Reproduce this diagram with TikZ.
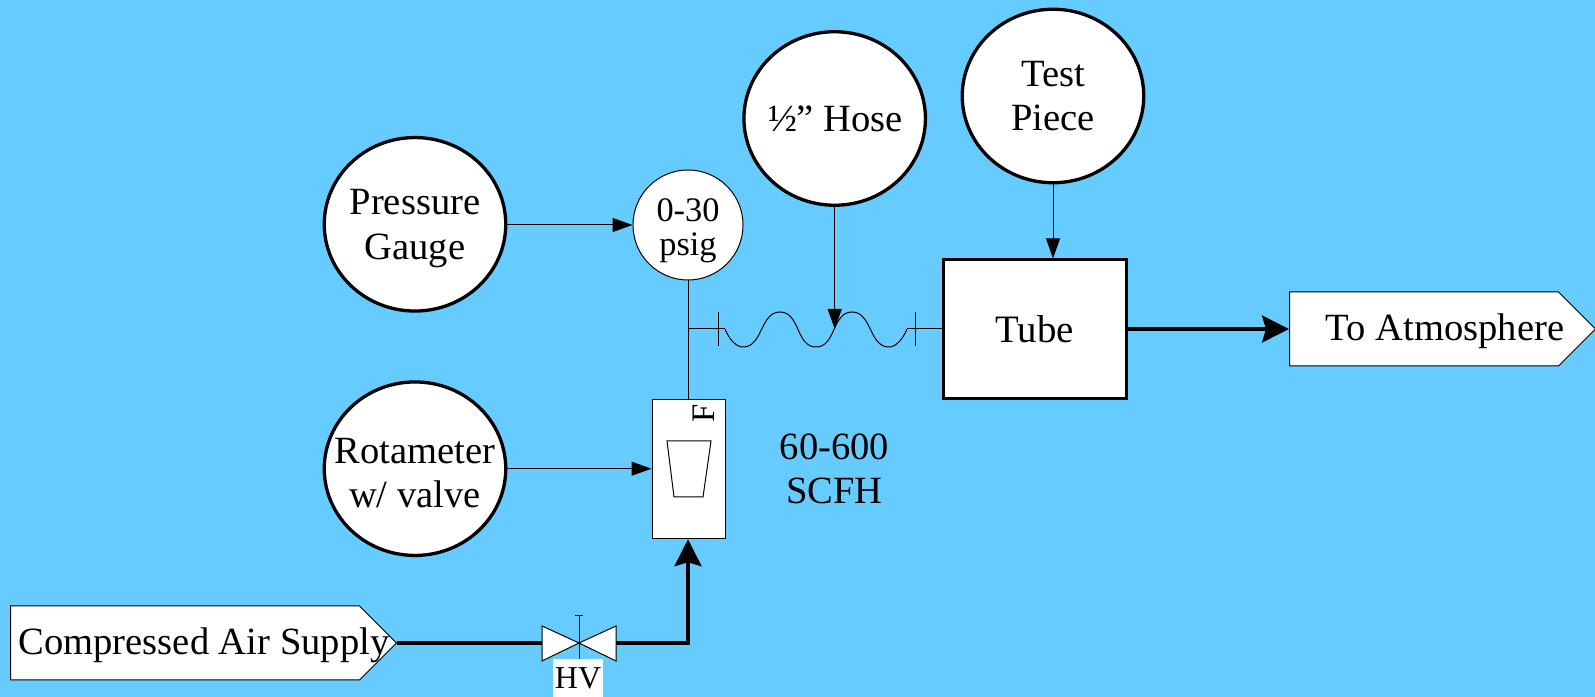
\documentclass[tikz,border=0pt]{standalone}
\usepackage{fontspec}
\setmainfont{Liberation Serif}
\usetikzlibrary{arrows.meta,shapes.symbols,shapes.geometric}
\definecolor{skyback}{HTML}{66CCFF}
\tikzset{
  bigcircle/.style={draw,fill=white,ellipse,line width=3.3bp,inner sep=0pt,minimum width=181.5bp,minimum height=173.5bp},
  smallcircle/.style={draw,fill=white,circle,line width=1bp,inner sep=0pt,minimum size=110bp},
  signalbox/.style={draw,fill=white,signal,signal to=east,signal pointer angle=90,line width=1bp,inner sep=0pt,minimum height=74bp},
  plaintext/.style={inner sep=0pt,align=center,font=\fontsize{38.7}{44.5}\selectfont},
  thinline/.style={black,line width=1bp},
  thinarrow/.style={black,line width=1bp,-{Triangle[length=20bp,width=14bp]}},
  boldarrow/.style={black,line width=3.5bp,-{Stealth[length=27bp,width=27bp,inset=4bp]}},
  boldline/.style={black,line width=3.5bp},
}
\begin{document}
\begin{tikzpicture}[line join=miter]
\useasboundingbox (0bp,0bp) rectangle (1595bp,697bp);
\fill [skyback] (0bp,0bp) rectangle (1595bp,697bp);
%%
\node (node_gauge) at (415bp,472.7bp) [bigcircle] {};
  \node (node_gaugetext) at (415bp,468.5bp) [plaintext] {Pressure\\Gauge};
  \node (node_rota) at (415bp,228.3bp) [bigcircle] {};
  \node (node_rotatext) at (415bp,224bp) [plaintext] {Rotameter\\w/ valve};
  \node (node_hose) at (834.7bp,578.5bp) [bigcircle] {};
  \node (node_hosetext) at (835.5bp,578.5bp) [plaintext] {½” Hose};
  \node (node_test) at (1053bp,601bp) [bigcircle] {};
  \node (node_testtext) at (1053bp,601bp) [plaintext] {Test\\Piece};
  \node (node_psig) at (688bp,472bp) [smallcircle] {};
  \node (node_psigtext) at (688bp,466bp) [inner sep=0pt,align=center,font=\fontsize{34.5}{34}\selectfont] {0-30\\psig};
  \node (node_tube) at (1034.5bp,367.7bp) [draw,fill=white,line width=3bp,minimum width=183bp,minimum height=138.7bp,font=\fontsize{39}{44.5}\selectfont] {Tube};
  \node (node_atm) at (1289bp,368bp) [signalbox,anchor=west,minimum width=306bp] {};
  \node (node_atmtext) at (1445bp,365.5bp) [plaintext] {To Atmosphere};
  \node (node_air) at (10bp,54bp) [signalbox,anchor=west,minimum width=386bp] {};
  \node (node_airtext) at (204bp,51.5bp) [plaintext] {Compressed Air Supply};
  \node (node_meter) at (688.5bp,228bp) [draw,fill=white,line width=1bp,minimum width=73bp,minimum height=139.5bp] {};
  \node (node_flow) at (704bp,283.5bp) [inner sep=0pt,rotate=90,font=\fontsize{33}{33}\selectfont] {F};
  \node (node_range) at (834.5bp,228bp) [plaintext] {60-600\\SCFH};
%
  \draw [thinline] (667bp,256bp) -- (711bp,256bp) -- (703bp,200bp) -- (674bp,200bp) -- cycle;
%
  \coordinate (valve_c) at (579bp,54bp);
  \coordinate (stem_top) at (579bp,81bp);
  \coordinate (hose_in) at (725bp,368bp);
  \coordinate (hose_out) at (907bp,368bp);
  \coordinate (hose_join) at (834.7bp,368bp);
  \coordinate (junction) at (node_psig.south |- hose_in);
  \coordinate (valve_l) at (542bp,54bp);
  \coordinate (valve_r) at (616bp,54bp);
  \coordinate (corner) at (node_psig.south |- valve_c);
%
  \draw [thinline,fill=white] (valve_c) -- (542bp,71bp) -- (542bp,36bp) -- cycle;
  \draw [thinline,fill=white] (valve_c) -- (616bp,71bp) -- (616bp,36bp) -- cycle;
  \node (node_hv) at (578bp,19bp) [fill=white,minimum width=50bp,minimum height=38bp,inner sep=0pt,font=\fontsize{32}{32}\selectfont] {HV};
  \draw [thinline] (node_hv.north -| valve_c) -- (stem_top);
  \draw [thinline] (575bp,81bp) -- (583bp,81bp);
%
  \draw [thinline] (node_psig.south) -- (node_meter.north -| node_psig.south);
  \draw [thinline] (junction) -- (hose_in);
  \draw [thinline] (718bp,351bp) -- (718bp,385bp);
  \draw [thinline] (915bp,351bp) -- (915bp,385bp);
  \draw [thinline] (hose_out) -- (hose_out -| node_tube.west);
  \draw [thinline] (hose_in) .. controls (729bp,358bp) and (736bp,350bp) .. (743bp,350bp) .. controls (763bp,350bp) and (760bp,385bp) .. (780bp,385bp) .. controls (800bp,385bp) and (796bp,350bp) .. (816bp,350bp) .. controls (836bp,350bp) and (832bp,385bp) .. (852bp,385bp) .. controls (872bp,385bp) and (869bp,350bp) .. (889bp,350bp) .. controls (896bp,350bp) and (903bp,358bp) .. (hose_out);
%
  \draw [thinarrow] (node_gauge.east |- node_psig.west) -- (node_psig.west);
  \draw [thinarrow] (node_rota.east) -- (node_rota.east -| node_meter.west);
  \draw [thinarrow] (node_hose.south) -- (hose_join);
  \draw [thinarrow] (node_test.south) -- (node_test.south |- node_tube.north);
  \draw [boldarrow] (node_atm.west -| node_tube.east) -- (node_atm.west);
  \draw [boldline] (node_air.east) -- (valve_l);
  \draw [boldarrow] (valve_r) -- (corner) -- (node_meter.south -| corner);
%
\end{tikzpicture}
\end{document}
